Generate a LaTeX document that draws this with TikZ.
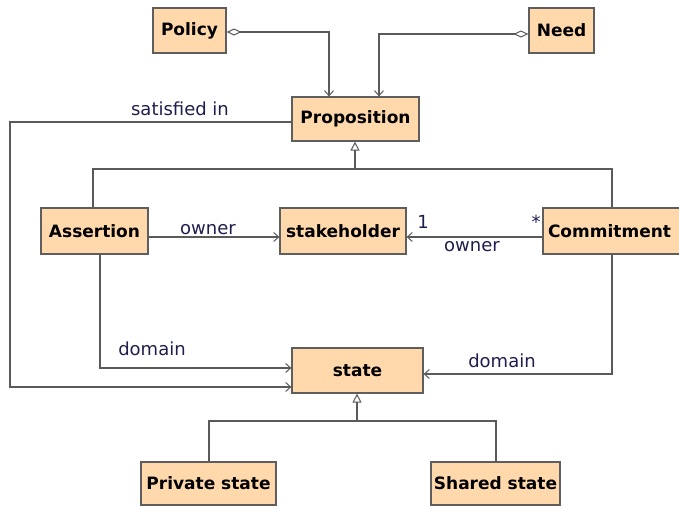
\documentclass[tikz,border=0pt]{standalone}
\usepackage{fontspec}
\setmainfont{DejaVu Sans}
\usetikzlibrary{arrows.meta}
\definecolor{boxfill}{HTML}{FFD8AC}
\definecolor{boxline}{HTML}{5E5E5E}
\definecolor{wire}{HTML}{5A5A5A}
\definecolor{labelink}{HTML}{1E1E4E}
\tikzset{
  cls/.style={draw=boxline, line width=1.2pt, fill=boxfill, rectangle,
    inner sep=0pt, font=\fontsize{17}{19}\selectfont\bfseries},
  wireline/.style={draw=wire, line width=1.1pt, line join=miter},
  assoc/.style={wireline, -{Straight Barb[length=5pt,width=9pt,line width=1pt]}},
  agg/.style={wireline, {Diamond[open,length=15pt,width=7pt,line width=1pt]}-{Straight Barb[length=5pt,width=9pt,line width=1pt]}},
  gen/.style={wireline, {Triangle[open,length=9pt,width=9pt,line width=1pt]}-},
  lbl/.style={text=labelink, font=\fontsize{18}{20}\selectfont, inner sep=0pt},
}
\begin{document}
\begin{tikzpicture}[x=1pt,y=-1pt]
\useasboundingbox[fill=white] (0,0) rectangle (679,506);

% classes
\node[cls, minimum width=73, minimum height=45] (policy) at (189.5,30.5) {Policy};
\node[cls, minimum width=65, minimum height=45] (need) at (561.5,30.5) {Need};
\node[cls, minimum width=127, minimum height=44] (prop) at (355.5,119) {Proposition};
\node[cls, minimum width=107, minimum height=46] (assert) at (94.5,231) {Assertion};
\node[cls, minimum width=126, minimum height=46] (stake) at (343,231) {stakeholder};
\node[cls, minimum width=150, minimum height=46, text width=146, align=left] (commit) at (618,231) {\hspace*{3pt}Commitment};
\node[cls, minimum width=131, minimum height=45] (state) at (357.5,370.5) {state};
\node[cls, minimum width=135, minimum height=43] (priv) at (208.5,483.5) {Private state};
\node[cls, minimum width=129, minimum height=43] (shared) at (495.5,483.5) {Shared state};

% aggregation into Proposition
\draw[agg] ([yshift=-1.5]policy.east) -| ([xshift=-26.5]prop.north);
\draw[agg] ([yshift=-3.5]need.west) -| ([xshift=23.5]prop.north);

% satisfied in
\coordinate (satL) at (10,122);
\draw[assoc] ([yshift=-3]prop.west) -- (satL) |- ([yshift=-16.5]state.west);
\node[lbl, anchor=base] (satlbl) at (180,115) {satisfied in};

% generalisation of Proposition
\coordinate (gbar) at (355,169);
\coordinate (gA) at (93,169);
\coordinate (gC) at (612,169);
\draw[gen] ([xshift=-0.5]prop.south) -- (gbar);
\draw[wireline] (gA |- assert.north) -- (gA) -- (gC) -- (gC |- commit.north);

% owner associations
\draw[assoc] ([yshift=-6]assert.east) -- ([yshift=-6]stake.west);
\node[lbl, anchor=base] (own1) at (208,234) {owner};
\draw[assoc] ([yshift=-6]commit.west) -- ([yshift=-6]stake.east);
\node[lbl, anchor=base] (own2) at (472,251) {owner};
\node[lbl, anchor=base] (mult1) at (423,228) {1};
\node[lbl, anchor=base] (multm) at (536,228) {*};

% domain associations
\coordinate (dA) at (100,254);
\draw[assoc] (dA) |- ([yshift=2.5]state.west);
\node[lbl, anchor=base] (dom1) at (152,355) {domain};
\coordinate (dC) at (612,254);
\draw[assoc] (dC) |- ([yshift=-3.5]state.east);
\node[lbl, anchor=base] (dom2) at (502,367) {domain};

% generalisation of state
\coordinate (sbar) at (357,421);
\coordinate (sP) at (209,421);
\coordinate (sS) at (496,421);
\draw[gen] ([xshift=-0.5]state.south) -- (sbar);
\draw[wireline] (sP |- priv.north) -- (sP) -- (sS) -- (sS |- shared.north);
\end{tikzpicture}
\end{document}
